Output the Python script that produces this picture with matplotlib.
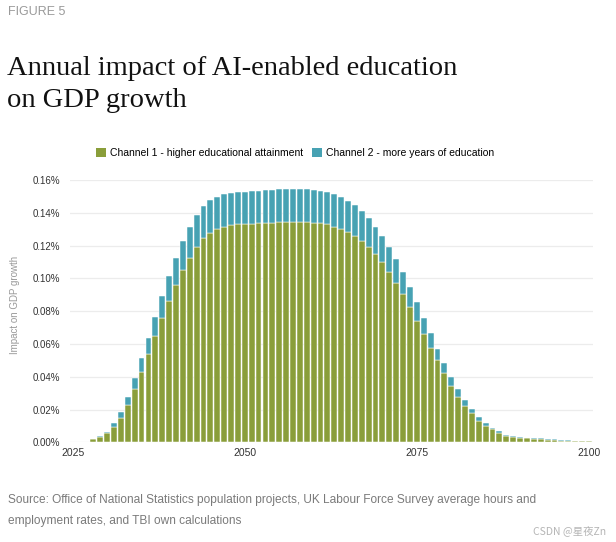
"""
Annual impact of AI-enabled education on GDP growth (stacked bars)
"""
import matplotlib
matplotlib.use('Agg')
import matplotlib.pyplot as plt
from matplotlib.patches import Patch

# data (values in % of GDP growth)
years = list(range(2028, 2101))
channel1 = [
    0.0018, 0.0034, 0.0059, 0.0095, 0.0150, 0.0225, 0.0323, 0.0427, 0.0536, 0.0648,
    0.0756, 0.0862, 0.0957, 0.1051, 0.1126, 0.1193, 0.1244, 0.1278, 0.1303, 0.1315,
    0.1323, 0.1329, 0.1330, 0.1332, 0.1335, 0.1339, 0.1339, 0.1341, 0.1341, 0.1341,
    0.1341, 0.1341, 0.1339, 0.1335, 0.1329, 0.1315, 0.1299, 0.1284, 0.1258, 0.1230,
    0.1193, 0.1148, 0.1097, 0.1041, 0.0973, 0.0904, 0.0827, 0.0742, 0.0660, 0.0577,
    0.0499, 0.0421, 0.0345, 0.0278, 0.0223, 0.0177, 0.0132, 0.0101, 0.0081, 0.0055,
    0.0040, 0.0034, 0.0028, 0.0024, 0.0020, 0.0018, 0.0014, 0.0014, 0.0010, 0.0010,
    0.0008, 0.0006, 0.0006,
]
channel2 = [
    0.0002, 0.0002, 0.0006, 0.0021, 0.0033, 0.0053, 0.0067, 0.0085, 0.0102, 0.0118,
    0.0136, 0.0152, 0.0169, 0.0177, 0.0189, 0.0193, 0.0197, 0.0200, 0.0195, 0.0199,
    0.0199, 0.0197, 0.0199, 0.0200, 0.0199, 0.0200, 0.0200, 0.0202, 0.0202, 0.0202,
    0.0202, 0.0202, 0.0200, 0.0199, 0.0197, 0.0199, 0.0195, 0.0187, 0.0189, 0.0180,
    0.0173, 0.0167, 0.0161, 0.0148, 0.0143, 0.0132, 0.0118, 0.0112, 0.0100, 0.0087,
    0.0070, 0.0061, 0.0055, 0.0047, 0.0035, 0.0026, 0.0020, 0.0015, 0.0008, 0.0014,
    0.0005, 0.0006, 0.0006, 0.0004, 0.0004, 0.0006, 0.0004, 0.0004, 0.0004, 0.0004,
    0.0002, 0.0004, 0.0004,
]
labels = ['Channel 1 - higher educational attainment', 'Channel 2 - more years of education']
yticks = [0.00, 0.02, 0.04, 0.06, 0.08, 0.10, 0.12, 0.14, 0.16]
xticks = [2025, 2050, 2075, 2100]

GREEN = '#8a9e3a'
TEAL = '#47a2b3'
W, H = 616, 542

plt.rcParams['font.family'] = ['Liberation Sans', 'DejaVu Sans']

fig = plt.figure(figsize=(W / 100, H / 100), dpi=100)
ax = fig.add_axes([70 / W, 1 - 442.3 / H, 523 / W, 262.3 / H])

ax.bar(years, channel1, width=0.85, color=GREEN, edgecolor='white', linewidth=0.35, zorder=2)
ax.bar(years, channel2, width=0.85, bottom=channel1, color=TEAL,
       edgecolor='white', linewidth=0.35, zorder=2)

ax.set_xlim(2024.6, 2100.6)
ax.set_ylim(0, 0.16)
ax.set_xticks(xticks)
ax.set_yticks(yticks)
ax.set_yticklabels([f'{v:.2f}%' for v in yticks])
ax.tick_params(length=0, labelsize=7, colors='#333333')
ax.tick_params(axis='x', labelsize=7.5, pad=4)
ax.tick_params(axis='y', pad=7)
ax.grid(axis='y', color='#ececec', linewidth=0.9, zorder=0)
ax.set_axisbelow(True)
for s in ax.spines.values():
    s.set_visible(False)
ax.set_ylabel('Impact on GDP growth', fontsize=7, color='#999999')
ax.yaxis.set_label_coords(-50 / 523, (442.3 - 305) / 262.3)

# legend
handles = [Patch(facecolor=GREEN), Patch(facecolor=TEAL)]
fig.legend(handles, labels, loc='center left', bbox_to_anchor=(96 / W, 1 - 153 / H),
           ncol=2, frameon=False, fontsize=7.5, handlelength=0.95, handleheight=0.95,
           handletextpad=0.35, columnspacing=0.9, borderaxespad=0, borderpad=0)

# header texts
fig.text(8 / W, 1 - 12 / H, 'FIGURE 5', fontsize=9, color='#9a9a9a', va='center')
fig.text(7 / W, 1 - 75 / H, 'Annual impact of AI-enabled education',
         fontsize=20.5, family='Liberation Serif', color='#111111', va='baseline')
fig.text(7 / W, 1 - 107 / H, 'on GDP growth',
         fontsize=20.5, family='Liberation Serif', color='#111111', va='baseline')

# source
fig.text(8 / W, 1 - 500 / H,
         'Source: Office of National Statistics population projects, UK Labour Force Survey average hours and',
         fontsize=8.6, color='#7a7a7a', va='center')
fig.text(8 / W, 1 - 521 / H, 'employment rates, and TBI own calculations',
         fontsize=8.6, color='#7a7a7a', va='center')
fig.text(606 / W, 1 - 531 / H, 'CSDN @星夜Zn', fontsize=7.5, color='#b5b5b5', va='center',
         ha='right', family=['Noto Sans CJK SC', 'DejaVu Sans'])

fig.savefig('out.png', dpi=100, facecolor='white')
